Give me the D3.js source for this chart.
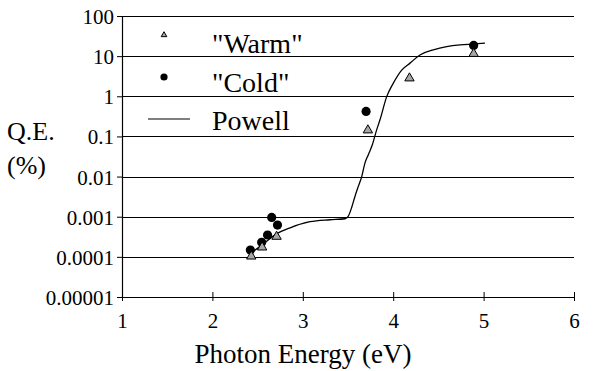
<!DOCTYPE html>
<html>
<head>
<meta charset="utf-8">
<script src="https://cdn.jsdelivr.net/npm/d3@7"></script>
</head>
<body style="margin:0;background:#fff">
<div id="chart"></div>
<script>
var svgWidth = 603;
var svgHeight = 371;

// data
var warmEnergy = [2.43, 2.55, 2.71, 3.72, 4.18, 4.89];
var warmQE = [0.000103, 0.000173, 0.00032, 0.143, 2.82, 11.5];

var coldEnergy = [2.42, 2.545, 2.61, 2.656, 2.72, 3.70, 4.89];
var coldQE = [0.000148, 0.00023, 0.00035, 0.00096, 0.00062, 0.42, 18.5];

var powellEnergy = [2.42, 2.55, 2.715, 2.86, 3.08, 3.30, 3.467, 3.50, 3.544, 3.577, 3.614, 3.652, 3.688, 3.725, 3.769, 3.817, 3.854, 3.928, 4.0, 4.094, 4.186, 4.296, 4.444, 4.592, 4.739, 4.886, 5.015];
var powellQE = [0.00012, 0.0002, 0.00038, 0.00053, 0.00075, 0.00084, 0.00089, 0.001, 0.0018, 0.0032, 0.0057, 0.01, 0.022, 0.035, 0.062, 0.146, 0.26, 0.98, 2.1, 4.5, 6.7, 10.7, 14.3, 17.2, 19, 20, 21];

var yTicks = [100, 10, 1, 0.1, 0.01, 0.001, 0.0001, 0.00001];
var yTickLabels = ["100", "10", "1", "0.1", "0.01", "0.001", "0.0001", "0.00001"];
var xTicks = [1, 2, 3, 4, 5, 6];

var legendLabels = ["\"Warm\"", "\"Cold\"", "Powell"];

var margin = { top: 16, right: 29, bottom: 74, left: 122 };
var chartWidth = svgWidth - margin.left - margin.right;
var chartHeight = svgHeight - margin.top - margin.bottom;

var svg = d3.select("#chart")
  .append("svg")
  .attr("width", svgWidth)
  .attr("height", svgHeight)
  .attr("font-family", "Liberation Serif");

var chartGroup = svg.append("g")
  .attr("transform", `translate(${margin.left},${margin.top})`);

var xScale = d3.scaleLinear().domain([1, 6]).range([0, chartWidth]);
var yScale = d3.scaleLog().domain([0.00001, 100]).range([chartHeight, 0]);

// gridlines
chartGroup.selectAll("line.grid")
  .data(yTicks)
  .enter()
  .append("line")
  .attr("class", "grid")
  .attr("x1", 0)
  .attr("x2", chartWidth)
  .attr("y1", d => Math.round(yScale(d)) + 0.5)
  .attr("y2", d => Math.round(yScale(d)) + 0.5)
  .attr("stroke", "#000")
  .attr("stroke-width", 1);

// axes
var yAxis = chartGroup.append("g")
  .call(d3.axisLeft(yScale).tickValues(yTicks).tickFormat((d, i) => yTickLabels[i]).tickSize(5).tickPadding(3));

var xAxis = chartGroup.append("g")
  .attr("transform", `translate(0, ${chartHeight})`)
  .call(d3.axisBottom(xScale).tickValues(xTicks).tickFormat(d3.format("d")).tickSize(4).tickPadding(12));

[xAxis, yAxis].forEach(function(ax) {
  ax.attr("font-family", "Liberation Serif").attr("font-size", 21);
  ax.select(".domain").attr("stroke", "#000").attr("stroke-width", 1.2);
  ax.selectAll(".tick line").attr("stroke", "#000");
  ax.selectAll("text").attr("fill", "#000");
});
yAxis.select(".domain").attr("d", `M0.5,0V${chartHeight}`);
xAxis.select(".domain").attr("d", `M0,0.5H${chartWidth}`);
// x ticks cross the axis line
xAxis.selectAll(".tick line").attr("y1", -5).attr("y2", 4);
yAxis.selectAll(".tick text").attr("dy", "0.36em");

// Powell curve
var powell = powellEnergy.map((e, i) => [e, powellQE[i]]);
var line = d3.line()
  .x(d => xScale(d[0]))
  .y(d => yScale(d[1]))
  .curve(d3.curveMonotoneX);

chartGroup.append("path")
  .datum(powell)
  .attr("d", line)
  .attr("fill", "none")
  .attr("stroke", "#000")
  .attr("stroke-width", 1.3);

// cold points
coldEnergy.forEach(function(e, i) {
  chartGroup.append("circle")
    .attr("cx", xScale(e))
    .attr("cy", yScale(coldQE[i]))
    .attr("r", 4.6)
    .attr("fill", "#000");
});

// warm points
var tri = d3.symbol().type(d3.symbolTriangle).size(38);
warmEnergy.forEach(function(e, i) {
  chartGroup.append("path")
    .attr("d", tri)
    .attr("transform", `translate(${xScale(e)},${yScale(warmQE[i])})`)
    .attr("fill", "#a6a6a6")
    .attr("stroke", "#000")
    .attr("stroke-width", 1);
});

// legend
var legend = svg.append("g");
var legendRows = [35, 77, 119];
legend.append("path")
  .attr("d", d3.symbol().type(d3.symbolTriangle).size(14))
  .attr("transform", `translate(164,${legendRows[0]})`)
  .attr("fill", "#a6a6a6")
  .attr("stroke", "#000")
  .attr("stroke-width", 1);
legend.append("circle")
  .attr("cx", 164)
  .attr("cy", legendRows[1])
  .attr("r", 3.6)
  .attr("fill", "#000");
legend.append("line")
  .attr("x1", 148).attr("x2", 190)
  .attr("y1", legendRows[2]).attr("y2", legendRows[2])
  .attr("stroke", "#000")
  .attr("stroke-width", 1.2);

legend.selectAll("text.leg")
  .data(legendLabels)
  .enter()
  .append("text")
  .attr("class", "leg")
  .attr("x", 212)
  .attr("y", (d, i) => [53, 92, 130][i])
  .attr("font-size", 28)
  .text(d => d);

// axis titles
svg.append("text")
  .attr("x", 303)
  .attr("y", 363)
  .attr("text-anchor", "middle")
  .attr("font-size", 27)
  .text("Photon Energy (eV)");

svg.append("text")
  .attr("x", 7)
  .attr("y", 140)
  .attr("font-size", 26)
  .text("Q.E.");

svg.append("text")
  .attr("x", 7)
  .attr("y", 174)
  .attr("font-size", 26)
  .text("(%)");

svg.selectAll("text").attr("font-family", "Liberation Serif").attr("fill", "#000");
</script>
</body>
</html>
